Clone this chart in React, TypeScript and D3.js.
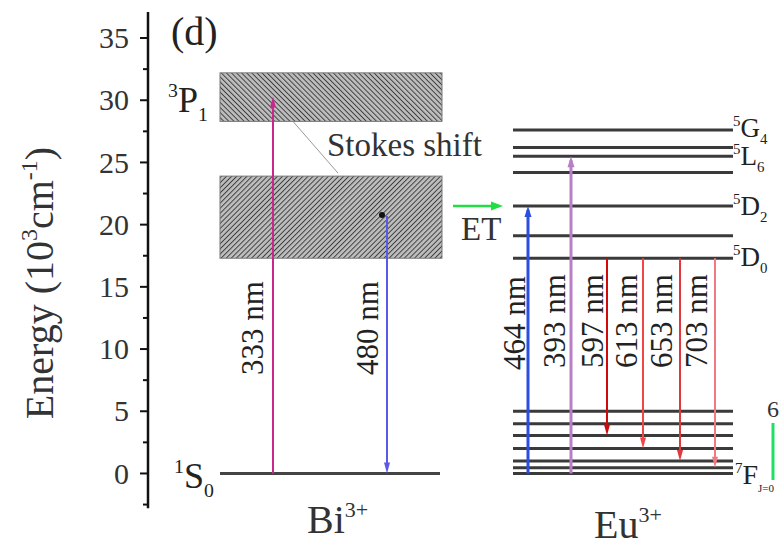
import React from "react";
import * as d3 from "d3";

// Energy values in units of 10^3 cm^-1
const yTicks = [0, 5, 10, 15, 20, 25, 30, 35];
const yMinorTicks = [-2.5, 2.5, 7.5, 12.5, 17.5, 22.5, 27.5, 32.5];

// Bi3+ bands: 3P1 excited band and the relaxed emitting band
const biBandLow = [28.3, 17.3];
const biBandHigh = [32.2, 23.9];
const biGround = 0;

// Bi3+ transitions
const biExcitation = { label: "333 nm", from: 0, to: 30.3 };
const biEmission = { label: "480 nm", from: 20.7, to: 0 };

// Eu3+ excited levels (5G4, 5L6, ..., 5D2, 5D1, 5D0)
const euUpperLevels = [27.6, 26.2, 25.5, 24.2, 21.5, 19.1, 17.3];
// Eu3+ 7FJ manifold (J = 0..6)
const euFLevels = [0, 0.46, 1.0, 2.0, 3.05, 4.0, 5.0];

// Eu3+ excitation transitions
const euExcitationLabels = ["464 nm", "393 nm"];
const euExcitationTargets = [21.5, 25.5];

// Eu3+ emissions from 5D0
const euEmissionLabels = ["597 nm", "613 nm", "653 nm", "703 nm"];
const euEmissionStart = 17.3;
const euEmissionTargets = [3.05, 2.0, 1.0, 0.46];

const W = 779;
const H = 548;
const SERIF = "'Liberation Serif', 'DejaVu Serif', serif";

const y = d3.scaleLinear().domain([-2.8, 37.1]).range([508.3, 11.9]);

// horizontal layout (px)
const AXIS_X = 148;
const BI_X0 = 220;
const BI_X1 = 442;
const EU_X0 = 513;
const EU_X1 = 733;
const BI_EXC_X = 273;
const BI_EM_X = 387;
const EU_EXC_X = [528, 571];
const EU_EM_X = [607, 643, 680, 715];
const EU_EM_LABEL_X = [603, 637, 672, 707];

const excColors = ["#2a4fe0", "#b97fc6"];
const emColors = ["#cf0a0a", "#ef4646", "#e0383c", "#f07a82"];

function arrowHead(x: number, tipY: number, dir: 1 | -1, color: string, w = 6, l = 11) {
  // dir = -1 -> pointing up, 1 -> pointing down
  const base = tipY - dir * l;
  const p = d3.path();
  p.moveTo(x, tipY);
  p.lineTo(x - w / 2, base);
  p.lineTo(x + w / 2, base);
  p.closePath();
  return <path d={p.toString()} fill={color} />;
}

function Arrow({ x, from, to, color, width }: { x: number; from: number; to: number; color: string; width: number }) {
  const y0 = y(from);
  const y1 = y(to);
  const dir = y1 > y0 ? 1 : -1;
  return (
    <g>
      <line x1={x} x2={x} y1={y0} y2={y1 - dir * 4} stroke={color} strokeWidth={width} />
      {arrowHead(x, y1, dir as 1 | -1, color, width + 4, 11)}
    </g>
  );
}

function RotLabel({ x, yBottom, text, size = 31 }: { x: number; yBottom: number; text: string; size?: number }) {
  return (
    <text
      transform={`translate(${x},${yBottom}) rotate(-90)`}
      fontFamily={SERIF}
      fontSize={size}
      fill="#222"
      textAnchor="start"
    >
      {text}
    </text>
  );
}

function Term({ x, yb, sup, main, sub, size = 28 }: { x: number; yb: number; sup: string; main: string; sub: string; size?: number }) {
  const s = size * 0.55;
  return (
    <text x={x} y={yb} fontFamily={SERIF} fontSize={size} fill="#222">
      <tspan fontSize={s} dy={-size * 0.42}>{sup}</tspan>
      <tspan dy={size * 0.42}>{main}</tspan>
      <tspan fontSize={s} dy={size * 0.25}>{sub}</tspan>
    </text>
  );
}

export default function App() {
  const euAll = [...euUpperLevels, ...euFLevels];
  return (
    <svg width={W} height={H} style={{ position: "absolute", left: 0, top: 0, background: "#fff" }}>
      <defs>
        <pattern id="hatchA" width={3.6} height={3.6} patternUnits="userSpaceOnUse" patternTransform="rotate(45)">
          <rect width={3.6} height={3.6} fill="#bdbdbd" />
          <line x1={0} y1={0} x2={0} y2={3.6} stroke="#3c3c3c" strokeWidth={1.9} />
        </pattern>
        <pattern id="hatchB" width={3.6} height={3.6} patternUnits="userSpaceOnUse" patternTransform="rotate(-45)">
          <rect width={3.6} height={3.6} fill="#bdbdbd" />
          <line x1={0} y1={0} x2={0} y2={3.6} stroke="#3c3c3c" strokeWidth={1.9} />
        </pattern>
      </defs>

      {/* y axis */}
      <line x1={AXIS_X} x2={AXIS_X} y1={y(37.1)} y2={y(-2.8)} stroke="#111" strokeWidth={2.5} />
      {yTicks.map((t) => (
        <g key={"t" + t}>
          <line x1={AXIS_X - 8} x2={AXIS_X} y1={y(t)} y2={y(t)} stroke="#111" strokeWidth={2} />
          <text x={AXIS_X - 19} y={y(t)} dy="0.34em" textAnchor="end" fontFamily={SERIF} fontSize={30} fill="#333">
            {t}
          </text>
        </g>
      ))}
      {yMinorTicks.map((t) => (
        <line key={"m" + t} x1={AXIS_X - 5} x2={AXIS_X} y1={y(t)} y2={y(t)} stroke="#111" strokeWidth={2} />
      ))}
      <text transform={`translate(53,${283}) rotate(-90)`} textAnchor="middle" fontFamily={SERIF} fontSize={40} fill="#333">
        Energy (10
        <tspan fontSize={24} dy={-16}>3</tspan>
        <tspan dy={16}>cm</tspan>
        <tspan fontSize={24} dy={-16}>-1</tspan>
        <tspan dy={16}>)</tspan>
      </text>

      <text x={171} y={45} fontFamily={SERIF} fontSize={40} fill="#222">(d)</text>

      {/* Bi3+ bands */}
      {biBandLow.map((lo, i) => (
        <rect
          key={"band" + i}
          x={BI_X0}
          width={BI_X1 - BI_X0}
          y={y(biBandHigh[i])}
          height={y(lo) - y(biBandHigh[i])}
          fill={`url(#${i === 0 ? "hatchB" : "hatchA"})`}
          stroke="#777"
          strokeWidth={1}
        />
      ))}
      <line x1={BI_X0} x2={BI_X1 - 2} y1={y(biGround)} y2={y(biGround)} stroke="#444" strokeWidth={3} />

      {/* Stokes shift pointer */}
      <line x1={293} y1={y(biBandLow[0])} x2={338} y2={y(biBandHigh[1]) - 3} stroke="#999" strokeWidth={1} />
      <text x={327} y={156} fontFamily={SERIF} fontSize={33} fill="#333">Stokes shift</text>

      <Term x={168} yb={112} sup="3" main="P" sub="1" size={36} />
      <Term x={174} yb={488} sup="1" main="S" sub="0" size={36} />

      <Arrow x={BI_EXC_X} from={biExcitation.from} to={biExcitation.to} color="#c8288c" width={2} />
      <Arrow x={BI_EM_X} from={biEmission.from} to={biEmission.to} color="#5a5ae6" width={2} />
      <circle cx={382} cy={y(biEmission.from) - 1} r={3} fill="#111" />
      <RotLabel x={263} yBottom={375} text={biExcitation.label} />
      <RotLabel x={378} yBottom={375} text={biEmission.label} />

      {/* energy transfer */}
      <line x1={453} x2={494} y1={y(21.5)} y2={y(21.5)} stroke="#22dd44" strokeWidth={2.5} />
      <path d={`M503,${y(21.5)} L491,${y(21.5) - 4.5} L491,${y(21.5) + 4.5} Z`} fill="#22dd44" />
      <text x={461} y={240} fontFamily={SERIF} fontSize={33} fill="#333">ET</text>

      {/* Eu3+ levels */}
      {euAll.map((lv, i) => (
        <line key={"eu" + i} x1={EU_X0} x2={EU_X1} y1={y(lv)} y2={y(lv)} stroke="#3a3a3a" strokeWidth={3} />
      ))}

      {/* Eu3+ excitation */}
      {euExcitationTargets.map((t, i) => (
        <Arrow key={"ex" + i} x={EU_EXC_X[i]} from={0} to={t} color={excColors[i]} width={3} />
      ))}
      {/* Eu3+ emission */}
      {euEmissionTargets.map((t, i) => (
        <Arrow key={"em" + i} x={EU_EM_X[i]} from={euEmissionStart} to={t} color={emColors[i]} width={2} />
      ))}

      <RotLabel x={525} yBottom={370} text={euExcitationLabels[0]} />
      <RotLabel x={565} yBottom={368} text={euExcitationLabels[1]} />
      {euEmissionLabels.map((l, i) => (
        <RotLabel key={"eml" + i} x={EU_EM_LABEL_X[i]} yBottom={368} text={l} />
      ))}

      {/* Eu3+ term labels */}
      <Term x={733} yb={137} sup="5" main="G" sub="4" size={27} />
      <Term x={733} yb={165} sup="5" main="L" sub="6" size={27} />
      <Term x={733} yb={215} sup="5" main="D" sub="2" size={27} />
      <Term x={733} yb={266} sup="5" main="D" sub="0" size={27} />
      <text x={735} y={484} fontFamily={SERIF} fontSize={28} fill="#222">
        <tspan fontSize={15} dy={-11}>7</tspan>
        <tspan dy={11}>F</tspan>
        <tspan fontSize={11} dy={8}>J=0</tspan>
      </text>
      <text x={773} y={417} textAnchor="middle" fontFamily={SERIF} fontSize={24} fill="#333">6</text>
      <line x1={773} x2={773} y1={423} y2={480} stroke="#22dd66" strokeWidth={3} />

      {/* ion labels */}
      <text x={307} y={533} fontFamily={SERIF} fontSize={40} fill="#333">
        Bi<tspan fontSize={22} dy={-16}>3+</tspan>
      </text>
      <text x={594} y={538} fontFamily={SERIF} fontSize={40} fill="#333">
        Eu<tspan fontSize={22} dy={-16}>3+</tspan>
      </text>
    </svg>
  );
}
